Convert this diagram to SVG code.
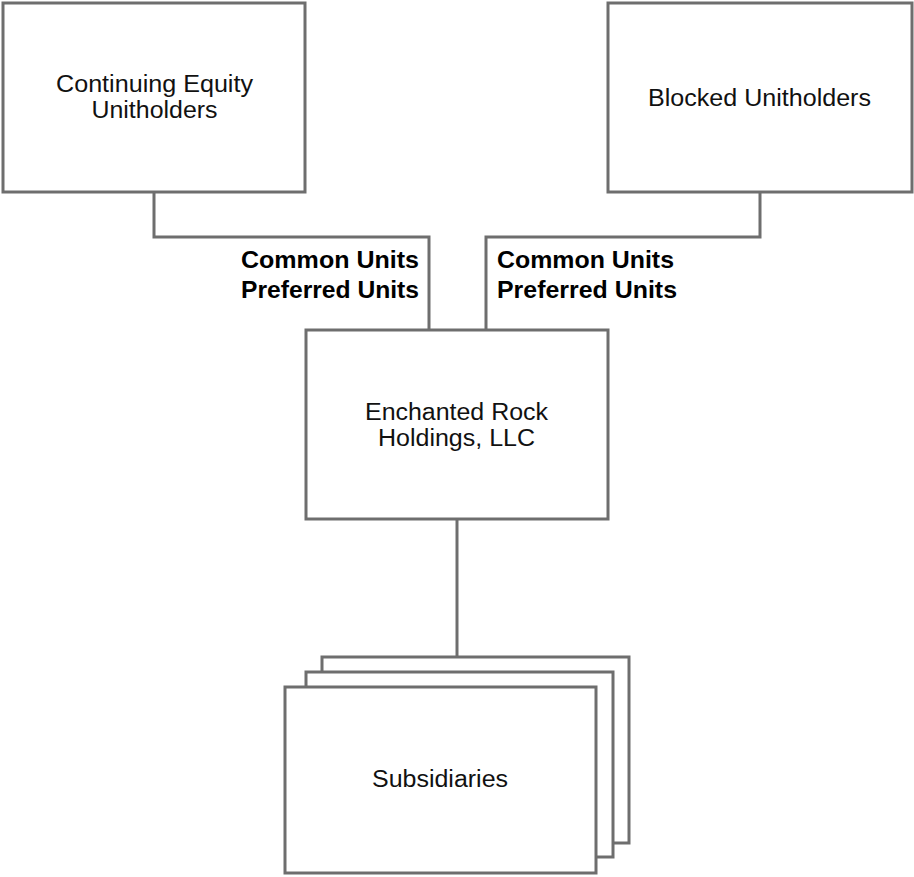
<svg xmlns="http://www.w3.org/2000/svg" width="914" height="877" viewBox="0 0 914 877">
<style>
.box{fill:#fff;stroke:#6e6e6e;stroke-width:3}
.conn{fill:none;stroke:#6e6e6e;stroke-width:3}
.t{font-family:"Liberation Sans",Arial,sans-serif;font-size:23.5px;fill:#111}
.b{font-family:"Liberation Sans",Arial,sans-serif;font-size:24.5px;font-weight:bold;fill:#000}
</style>
<rect width="914" height="877" fill="#fff"/>
<g id="connectors">
<polyline class="conn" points="154,192 154,237 429,237 429,330"/>
<polyline class="conn" points="760,192 760,237 486,237 486,330"/>
<line class="conn" x1="457" y1="519" x2="457" y2="657"/>
</g>
<g id="continuing">
<rect class="box" x="3" y="3" width="302" height="189"/>
<text class="t" x="154.5" y="92" text-anchor="middle" textLength="197" lengthAdjust="spacingAndGlyphs">Continuing Equity</text>
<text class="t" x="154.5" y="118" text-anchor="middle" textLength="126" lengthAdjust="spacingAndGlyphs">Unitholders</text>
</g>
<g id="blocked">
<rect class="box" x="608" y="3" width="304" height="189"/>
<text class="t" x="759.5" y="106" text-anchor="middle" textLength="223" lengthAdjust="spacingAndGlyphs">Blocked Unitholders</text>
</g>
<g id="label-left">
<text class="b" x="419" y="268" text-anchor="end" textLength="178" lengthAdjust="spacingAndGlyphs">Common Units</text>
<text class="b" x="419" y="298" text-anchor="end" textLength="178" lengthAdjust="spacingAndGlyphs">Preferred Units</text>
</g>
<g id="label-right">
<text class="b" x="497" y="268" textLength="177" lengthAdjust="spacingAndGlyphs">Common Units</text>
<text class="b" x="497" y="298" textLength="180" lengthAdjust="spacingAndGlyphs">Preferred Units</text>
</g>
<g id="enchanted">
<rect class="box" x="306" y="330" width="302" height="189"/>
<text class="t" x="456.5" y="420" text-anchor="middle" textLength="183" lengthAdjust="spacingAndGlyphs">Enchanted Rock</text>
<text class="t" x="456.5" y="446" text-anchor="middle" textLength="157" lengthAdjust="spacingAndGlyphs">Holdings, LLC</text>
</g>
<g id="subsidiaries">
<rect class="box" x="322" y="657" width="307" height="186"/>
<rect class="box" x="306" y="672" width="307" height="185"/>
<rect class="box" x="285" y="687" width="311" height="186"/>
<text class="t" x="440" y="787" text-anchor="middle" textLength="136" lengthAdjust="spacingAndGlyphs">Subsidiaries</text>
</g>
</svg>
